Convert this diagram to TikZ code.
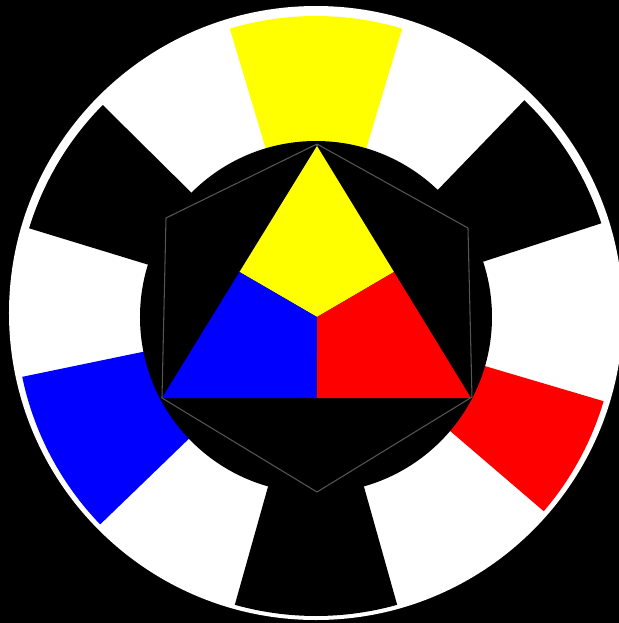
\documentclass[tikz,border=0pt]{standalone}
\usepackage{xcolor}
\definecolor{wheelyellow}{RGB}{255, 255, 0}
\definecolor{wheelred}{RGB}{255, 0, 0}
\definecolor{wheelblue}{RGB}{0, 0, 255}
\definecolor{hexgray}{RGB}{85, 85, 85}
\usetikzlibrary{calc}

\begin{document}
\begin{tikzpicture}[
    x=0.01cm, y=0.01cm,
    hexline/.style={draw=hexgray, line width=0.3pt, line join=round}
]

% Fondo
\fill[black] (-316,-307) rectangle (303,316);
\useasboundingbox (-316,-307) rectangle (303,316);

% Anillo exterior
\fill[white] (0,3) circle (307);

% Sectores de colores (inicio/fin/color)
\foreach \a/\b/\c in {73.3/106.7/wheelyellow, 18/46/black, -40.6/-16.5/wheelred,
                      -105.7/-74.3/black, 191.7/224/wheelblue, 135.3/163/black} {
    \fill[\c] (0,0) -- (\a:300) arc[start angle=\a, end angle=\b, radius=300] -- cycle;
}

% Disco interior
\fill[black] (0,-1) circle (176);

% Triangulo de los primarios
\coordinate (apex) at (1,170);
\coordinate (bl) at (-154,-82);
\coordinate (br) at (155,-82);
\coordinate (mid) at (1,-1);
\coordinate (lm) at ($(apex)!0.5!(bl)$);
\coordinate (rm) at ($(apex)!0.5!(br)$);
\coordinate (bm) at ($(bl)!0.5!(br)$);

\fill[wheelyellow] (apex) -- (rm) -- (mid) -- (lm) -- cycle;
\fill[wheelred] (rm) -- (br) -- (bm) -- (mid) -- cycle;
\fill[wheelblue] (lm) -- (mid) -- (bm) -- (bl) -- cycle;

% Hexagono de los secundarios
\draw[hexline] (1,172) -- (152,88) -- (156,-81) -- (1,-176) -- (-154,-82) -- (-150,98) -- cycle;
\draw[hexline] (1,172) -- (apex);

\end{tikzpicture}
\end{document}
